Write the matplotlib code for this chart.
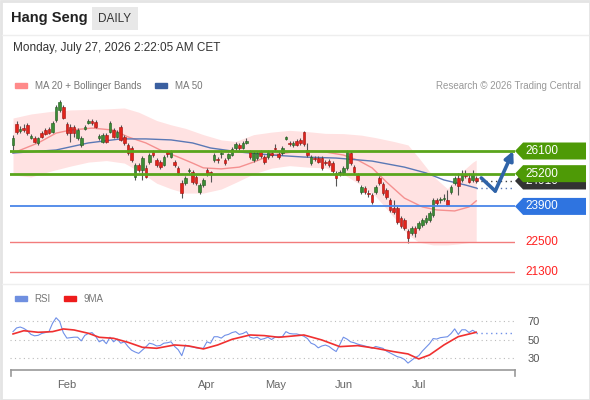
import numpy as np
import pandas as pd
import matplotlib
matplotlib.use("Agg")
import matplotlib.pyplot as plt
import matplotlib.transforms as mtransforms
from matplotlib.patches import Patch, Polygon, Rectangle
from matplotlib.lines import Line2D

plt.rcParams['font.family'] = ['Liberation Sans', 'DejaVu Sans']

# Trading calendar (HKEX holidays removed)
hk_holidays = ['2026-02-17', '2026-02-18', '2026-02-19', '2026-04-03', '2026-04-06',
               '2026-04-07', '2026-05-01', '2026-05-25', '2026-06-19', '2026-07-01']
days = pd.bdate_range('2026-01-12', '2026-07-24', freq='C', holidays=hk_holidays)
month_labels = ['Feb', 'Apr', 'May', 'Jun', 'Jul']

# Daily candles
opens = [26340, 27170, 26890, 27010, 27130, 26620, 26620, 26420, 26810, 26930,
         26970, 26850, 27330, 27730, 27850, 27170, 27050, 27050, 26620, 26340,
         26970, 27210, 27290, 27250, 26620, 26460, 26740, 26850, 26930, 26660,
         27050, 26660, 26340, 26220, 25070, 25540, 25350, 25430, 25660, 26060,
         25740, 25660, 25540, 26060, 25860, 25660, 25430, 24830, 24830, 25310,
         25270, 25070, 24470, 24750, 25350, 25270, 25740, 25780, 25980, 25740,
         25820, 25940, 26220, 26340, 26220, 26420, 26060, 25740, 25820, 26060,
         25860, 25860, 26020, 26220, 25980, 26020, 26580, 26420, 26340, 26500,
         26540, 26850, 26140, 25620, 25820, 25820, 25820, 25660, 25700, 25620,
         25230, 25230, 25230, 25430, 26020, 25460, 25150, 24470, 24630, 24430,
         24350, 24470, 25030, 24790, 24550, 24150, 23840, 23840, 23440, 23360,
         22920, 22840, 23040, 23040, 23160, 23280, 23360, 23560, 24150, 24150,
         24190, 24150, 24470, 24830, 25030, 24950, 25150, 25030, 24950, 25030]
closes = [26620, 26850, 26970, 26930, 26810, 26700, 26460, 26620, 26660, 26770,
          26810, 27210, 27850, 28050, 27410, 26810, 26810, 26810, 26930, 26620,
          27050, 27290, 27210, 27050, 26700, 26740, 26460, 27210, 26660, 26850,
          26540, 26420, 26020, 25740, 25540, 25350, 25820, 25070, 25940, 25940,
          25540, 25460, 25860, 25980, 26060, 25540, 25230, 24430, 25030, 25350,
          24870, 24830, 24750, 24950, 25190, 25230, 25940, 25740, 26020, 25620,
          25980, 26180, 26380, 26220, 26420, 26500, 25860, 26020, 26020, 25900,
          25660, 26060, 25940, 26180, 25860, 26220, 26660, 26380, 26420, 26340,
          26420, 26380, 25940, 25860, 25780, 25660, 25430, 25620, 25540, 25310,
          25030, 25270, 25430, 26060, 25620, 25270, 24950, 24670, 24470, 24390,
          24080, 24670, 24830, 24430, 24270, 23760, 23680, 23280, 23120, 23040,
          22650, 23040, 22840, 23240, 23360, 23440, 23640, 24150, 24040, 24170,
          24230, 23960, 24670, 25030, 24710, 25150, 25110, 24870, 25150, 24910]
highs = [26740, 27290, 27090, 27170, 27210, 26770, 26700, 26660, 26890, 27010,
         27050, 27290, 27930, 28120, 27930, 27250, 27170, 27130, 27010, 26700,
         27130, 27370, 27370, 27330, 26770, 26810, 26810, 27290, 27010, 26930,
         27130, 26740, 26420, 26300, 25620, 25620, 25900, 25540, 26020, 26140,
         25820, 25740, 25940, 26140, 26140, 25740, 25500, 24950, 25110, 25430,
         25350, 25150, 24830, 25030, 25430, 25310, 26020, 25860, 26140, 25820,
         26020, 26260, 26460, 26420, 26500, 26620, 26140, 26100, 26100, 26140,
         25940, 26140, 26100, 26380, 26060, 26300, 26700, 26500, 26500, 26580,
         26620, 26890, 26420, 25940, 25900, 25900, 25900, 25740, 25780, 25700,
         25310, 25350, 25500, 26140, 26100, 25540, 25230, 24750, 24710, 24550,
         24430, 24750, 25110, 24870, 24630, 24230, 24150, 23920, 23520, 23440,
         23000, 23120, 23120, 23320, 23440, 23560, 23720, 24230, 24230, 24270,
         24390, 24550, 24750, 25110, 25230, 25350, 25350, 25230, 25350, 25110]
lows = [26140, 26770, 26810, 26850, 26740, 26580, 26420, 26340, 26620, 26740,
        26770, 26810, 27250, 27650, 27370, 26740, 26460, 26660, 26540, 26260,
        26930, 27170, 27130, 27010, 26540, 26420, 26420, 26810, 26620, 26620,
        26500, 26340, 25940, 25660, 24950, 25270, 24950, 25030, 25580, 25860,
        25460, 25390, 25500, 25860, 25820, 25460, 25150, 24230, 24750, 25230,
        24790, 24750, 24390, 24670, 25110, 24870, 25660, 25620, 25820, 25540,
        25740, 25900, 26140, 26140, 26180, 26380, 25780, 25660, 25740, 25820,
        25580, 25780, 25860, 26100, 25780, 25940, 26540, 26300, 26260, 26300,
        26340, 26300, 25860, 25540, 25700, 25620, 25350, 25540, 25460, 25230,
        24710, 25110, 25150, 25350, 25540, 25190, 24870, 24390, 24390, 24270,
        24000, 24390, 24750, 24350, 24190, 23680, 23600, 23200, 23040, 22960,
        22450, 22770, 22690, 22960, 23080, 23200, 23280, 23480, 23960, 24040,
        24110, 23920, 24390, 24750, 24350, 24870, 25030, 24830, 24870, 24830]

# Bollinger bands / moving averages, read at knots (trading-day index)
bb_idx = [0, 5, 11, 16, 21, 26, 31, 35, 40, 44, 48, 53, 58, 62, 67, 72, 77, 82, 87, 92,
          97, 101, 106, 110, 113, 117, 121, 124, 128, 129]
bb_upper = [27410, 27570, 27680, 27730, 27750, 27770, 27810, 27640, 27310, 27140,
            27000, 26750, 26540, 26480, 26750, 26850, 26920, 26870, 26800, 26790,
            26730, 26630, 26480, 26340, 25830, 25100, 24600, 25150, 25650, 25740]
bb_lower = [25150, 25070, 25320, 25500, 25660, 25720, 25620, 25300, 24820, 24600,
            24430, 24430, 24590, 24850, 25190, 25420, 25520, 25460, 25430, 25180,
            24740, 24300, 23480, 22770, 22480, 22370, 22370, 22410, 22490, 22490]
ma20_idx = [0, 7, 12, 16, 22, 28, 32, 37, 41, 46, 50, 53, 58, 63, 67, 72, 78, 83, 87, 92,
            96, 100, 104, 109, 114, 118, 123, 127, 129]
ma20 = [26020, 26420, 26810, 26930, 27010, 26930, 26660, 26420, 26140, 25860,
        25620, 25430, 25390, 25460, 25660, 25940, 26060, 26100, 26060, 25940,
        25740, 25430, 24870, 24230, 23880, 23760, 23720, 23880, 24120]
ma50_idx = [0, 12, 21, 30, 37, 44, 50, 55, 63, 72, 81, 90, 100, 109, 115, 120, 126, 129]
ma50 = [26020, 26140, 26420, 26580, 26580, 26540, 26420, 26220, 26060, 25940,
        25860, 25820, 25700, 25460, 25230, 24950, 24750, 24630]

# Key levels and forecast path
res_levels = [26100, 25200]
pivot_level = 23900
sup_levels = [22500, 21300]
fc_x = [130.4, 134.3, 139.3]
fc_y = [25030, 24510, 26100]

# RSI panel
rsi = [59, 63, 64, 62.5, 60, 56, 54.5, 55, 57, 58,
       59, 68, 74, 70, 58, 52, 52.5, 53, 53, 49,
       55, 57, 58, 54, 48, 50, 46, 53, 48, 51,
       46.5, 48, 43, 39, 37, 35.5, 39, 42.5, 46.5, 45.5,
       43.5, 44, 46.5, 47, 48, 43, 39.5, 33, 44.5, 43,
       42.5, 41.5, 41, 41, 48, 46.5, 53.5, 53.5, 52, 55,
       56, 58, 59, 56, 57, 59, 53, 52, 53, 50.5,
       51.5, 53, 50.5, 53, 53.5, 53.5, 59, 57, 56.5, 56.5,
       55.5, 54, 51.5, 46.5, 45, 41.5, 43.5, 44.5, 43, 40,
       37.5, 45, 53, 51, 48, 47, 45.5, 44.5, 43.5, 42.5,
       41, 43, 42, 41, 38, 36, 34, 32, 31, 29,
       25, 28, 31, 33, 38, 42, 46, 51.5, 51, 52.5,
       53, 53.5, 57, 62, 56, 61, 61, 58, 60.5, 58]
rsi_ma_idx = [0, 3, 7, 11, 14, 17, 21, 24, 28, 32, 36, 40, 45, 49, 53, 57, 61, 66, 70, 74,
              78, 81, 86, 91, 96, 101, 106, 110, 113, 116, 120, 124, 129]
rsi_ma = [56.5, 60, 58.3, 59, 61.9, 60.8, 57.2, 52.9, 51.8, 47.5,
          42.1, 41, 44.6, 43.5, 40.3, 44.6, 50.7, 55.4, 54.7, 52.9,
          54.3, 55.4, 50, 42.8, 43.9, 41, 37.4, 34.9, 29.5, 33.8,
          44.6, 53.6, 58.3]
rsi_levels = [70, 50, 30]

W, H = 590, 400
GREEN = '#4e9a06'
BLUE_TAG = '#2f74e0'
RED = '#ff2020'

fig = plt.figure(figsize=(W / 100, H / 100), dpi=100)
fig.patch.set_facecolor('white')

x = np.arange(len(days))
month_ticks = [int(np.argmax(days.strftime('%b') == m)) for m in month_labels]
xlim = (-0.84, 139.8)

# ---------------- price panel ----------------
ax = fig.add_axes([10 / W, 1 - 282 / H, 505 / W, 185 / H])
ax.set_xlim(*xlim)
ax.set_ylim(20899, 28244)
ax.axis('off')
units_per_px = (28244 - 20899) / 185

ax.fill_between(bb_idx, bb_lower, bb_upper, color='#ffe2e2', lw=0, zorder=1)
ax.plot(ma20_idx, ma20, color='#f59090', lw=1.0, zorder=2)
ax.plot(ma50_idx, ma50, color='#5a78b5', lw=1.0, zorder=2)

o = np.array(opens)
c = np.array(closes)
up = c >= o
face = np.where(up, '#3b8c35', '#e2231a')
edge = np.where(up, '#1f5a1c', '#9c1010')
ax.vlines(x, lows, highs, color='#555555', lw=0.8, zorder=3)
ax.bar(x, np.maximum(np.abs(c - o), 35), bottom=np.minimum(o, c), width=0.72,
       color=face, edgecolor=edge, linewidth=0.4, zorder=4)

for lv in res_levels:
    ax.axhline(lv, color='#5aa51c', lw=2.0, zorder=5)
ax.axhline(pivot_level, color='#4a86e8', lw=1.3, zorder=5)
for lv in sup_levels:
    ax.axhline(lv, color='#f27c7c', lw=1.0, zorder=5)

# dotted extensions of last close and MA50
ax.plot([x[-1], xlim[1]], [closes[-1]] * 2, ls=(0, (1, 2.5)), color='#444444', lw=1.0, zorder=5)
ax.plot([ma50_idx[-1], xlim[1]], [ma50[-1]] * 2, ls=(0, (1, 2.5)), color='#5a78b5', lw=1.0, zorder=5)

# forecast arrow
ax.plot(fc_x[:2], fc_y[:2], color='#2f63a8', lw=2.6, solid_capstyle='round', zorder=6)
ax.annotate('', xy=(fc_x[2], fc_y[2]), xytext=(fc_x[1], fc_y[1]),
            arrowprops=dict(arrowstyle='-|>', color='#2f63a8', lw=2.6, mutation_scale=13,
                            shrinkA=0, shrinkB=0), zorder=6)

trans = mtransforms.blended_transform_factory(ax.transAxes, ax.transData)


def price_tag(price, text, color, z):
    h = 8.5 * units_per_px
    pts = [(1.0, price), (1.016, price + h), (1.1406, price + h),
           (1.1406, price - h), (1.016, price - h)]
    ax.add_patch(Polygon(pts, closed=True, transform=trans, facecolor=color,
                         edgecolor='none', clip_on=False, zorder=z))
    ax.text(1.02, price, text, transform=trans, color='white', fontsize=8.5,
            va='center', ha='left', clip_on=False, zorder=z + 0.1)


price_tag(closes[-1], str(closes[-1]), '#333333', 7)
for lv in res_levels:
    price_tag(lv, str(lv), GREEN, 8)
price_tag(pivot_level, str(pivot_level), BLUE_TAG, 8)
for lv in sup_levels:
    ax.text(1.02, lv, str(lv), transform=trans, color=RED, fontsize=8.5,
            va='center', ha='left', clip_on=False)

# ---------------- RSI panel ----------------
rax = fig.add_axes([10 / W, 1 - 368 / H, 505 / W, 63 / H])
rax.set_xlim(*xlim)
rax.set_ylim(19.7, 87.8)
for s in rax.spines.values():
    s.set_visible(False)
for lv in rsi_levels:
    rax.axhline(lv, color='#bbbbbb', lw=0.8, ls=(0, (1, 3)))
rax.plot(x, rsi, color='#7090e8', lw=0.8)
rax.plot(rsi_ma_idx, rsi_ma, color='#f03030', lw=1.2)
rax.plot([x[-1], xlim[1]], [rsi[-1]] * 2, ls=(0, (1, 2.5)), color='#7090e8', lw=1.0)
rax.yaxis.tick_right()
rax.set_yticks(rsi_levels)
rax.tick_params(axis='y', length=0, pad=9, labelsize=8, labelcolor='#555555')
rax.set_xticks(month_ticks, month_labels)
rax.tick_params(axis='x', length=0, pad=9, labelsize=8, labelcolor='#666666')

# bracket under the RSI panel
for xs, ys in [([11, 515], [370, 370]), ([11, 11], [370, 376]), ([515, 515], [370, 376])]:
    fig.add_artist(Line2D([v / W for v in xs], [1 - v / H for v in ys],
                          color='#999999', lw=1.2))

# ---------------- header, legends, frame ----------------
fig.text(11 / W, 1 - 18 / H, 'Hang Seng', fontsize=10.5, fontweight='bold',
         color='#222222', va='center')
fig.add_artist(Rectangle((92 / W, 1 - 30 / H), 46 / W, 23 / H,
                         transform=fig.transFigure, facecolor='#e8e8e8', edgecolor='none'))
fig.text(115 / W, 1 - 18.5 / H, 'DAILY', ha='center', va='center', fontsize=8.5, color='#333333')
fig.text(13 / W, 1 - 48 / H, 'Monday, July 27, 2026 2:22:05 AM CET', fontsize=8.5,
         color='#333333', va='center')
fig.text(581 / W, 1 - 86 / H, 'Research \u00a9 2026 Trading Central', fontsize=7,
         color='#999999', ha='right', va='center')

fig.legend(handles=[Patch(color='#ff8a8a', label='MA 20 + Bollinger Bands'),
                    Patch(color='#3a5fa0', label='MA 50')],
           loc='center left', bbox_to_anchor=(6 / W, 1 - 86 / H), ncol=2, frameon=False,
           fontsize=7, handlelength=1.25, handleheight=0.45, handletextpad=0.8,
           columnspacing=1.45, labelcolor='#777777')
fig.legend(handles=[Patch(color='#6f8fe0', label='RSI'),
                    Patch(color='#ee1c1c', label='9MA')],
           loc='center left', bbox_to_anchor=(6 / W, 1 - 299 / H), ncol=2, frameon=False,
           fontsize=7, handlelength=1.25, handleheight=0.45, handletextpad=0.8,
           columnspacing=1.35, labelcolor='#777777')

for ys in [35, 284]:
    fig.add_artist(Line2D([2 / W, 588 / W], [1 - ys / H] * 2, color='#eeeeee', lw=1.0))
fig.add_artist(Rectangle((0.5 / W, 0.5 / H), 589 / W, 399 / H, transform=fig.transFigure,
                         fill=False, edgecolor='#e4e4e4', lw=2))

fig.savefig('out.png', dpi=100)
